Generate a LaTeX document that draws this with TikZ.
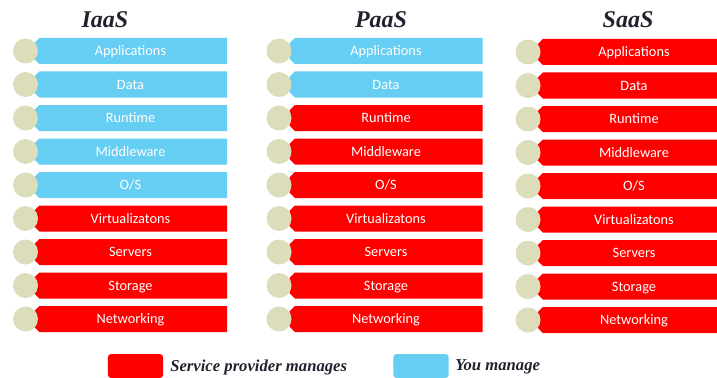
\documentclass[tikz,border=0pt]{standalone}
\usepackage{fontspec}
\setmainfont{Liberation Serif}
\newfontfamily\barfont{Carlito}
\usetikzlibrary{shapes.misc}
\definecolor{mine}{HTML}{66CDF3}
\definecolor{vendor}{HTML}{FF0000}
\definecolor{knob}{HTML}{DCDDBB}
\definecolor{ink}{HTML}{22222E}
\begin{document}
\begin{tikzpicture}[x=0.75pt,y=-0.75pt,
  layer/.style={chamfered rectangle,
    chamfered rectangle corners={north west,south west},
    chamfered rectangle xsep=2pt, chamfered rectangle ysep=2pt,
    minimum width=144.75pt, minimum height=19.5pt, inner sep=0pt,
    text height=6.9pt, text depth=0pt,
    text=white, font=\barfont\fontsize{10.75}{12}\selectfont},
  knobstyle/.style={circle, fill=knob, minimum size=18.75pt, inner sep=0pt},
  heading/.style={text=ink, inner sep=0pt,
    font=\fontsize{18}{20}\selectfont\bfseries\itshape},
  keybox/.style={rounded corners=2.5pt, minimum width=41.5pt,
    minimum height=18pt, inner sep=0pt},
  keytext/.style={text=ink, inner sep=0pt, anchor=west,
    font=\fontsize{12.5}{14}\selectfont\bfseries\itshape}]
\useasboundingbox (0,0) rectangle (717,378);
\clip (0,0) rectangle (717,378);

% column headings
\node[heading] (hI) at (105,20) {IaaS};
\node[heading] (hP) at (381,20) {PaaS};
\node[heading] (hS) at (628,20) {SaaS};

% stacks: name / bar centre x / knob centre x / rows you manage / y shift
\foreach \c/\bx/\kx/\own/\dy in {I/130.5/25.5/5/0, P/386/279/2/0, S/634/528/0/1}{
  \foreach \lbl [count=\r] in {Applications,Data,Runtime,Middleware,O/S,
      Virtualizatons,Servers,Storage,Networking}{
    \pgfmathsetmacro{\yy}{51+(\r-1)*33.5+\dy}
    \ifnum\r>\own
      \node[layer, fill=vendor] (\c\r) at (\bx,\yy) {\lbl};
    \else
      \node[layer, fill=mine] (\c\r) at (\bx,\yy) {\lbl};
    \fi
    \node[knobstyle] (k\c\r) at (\kx,\yy) {};
  }
}

% legend
\node[keybox, fill=vendor] (kv) at (135.5,366) {};
\node[keytext] (tv) at (170,367) {Service provider manages};
\node[keybox, fill=mine] (ky) at (421,366) {};
\node[keytext] (ty) at (455,367) {You manage};
\end{tikzpicture}
\end{document}
